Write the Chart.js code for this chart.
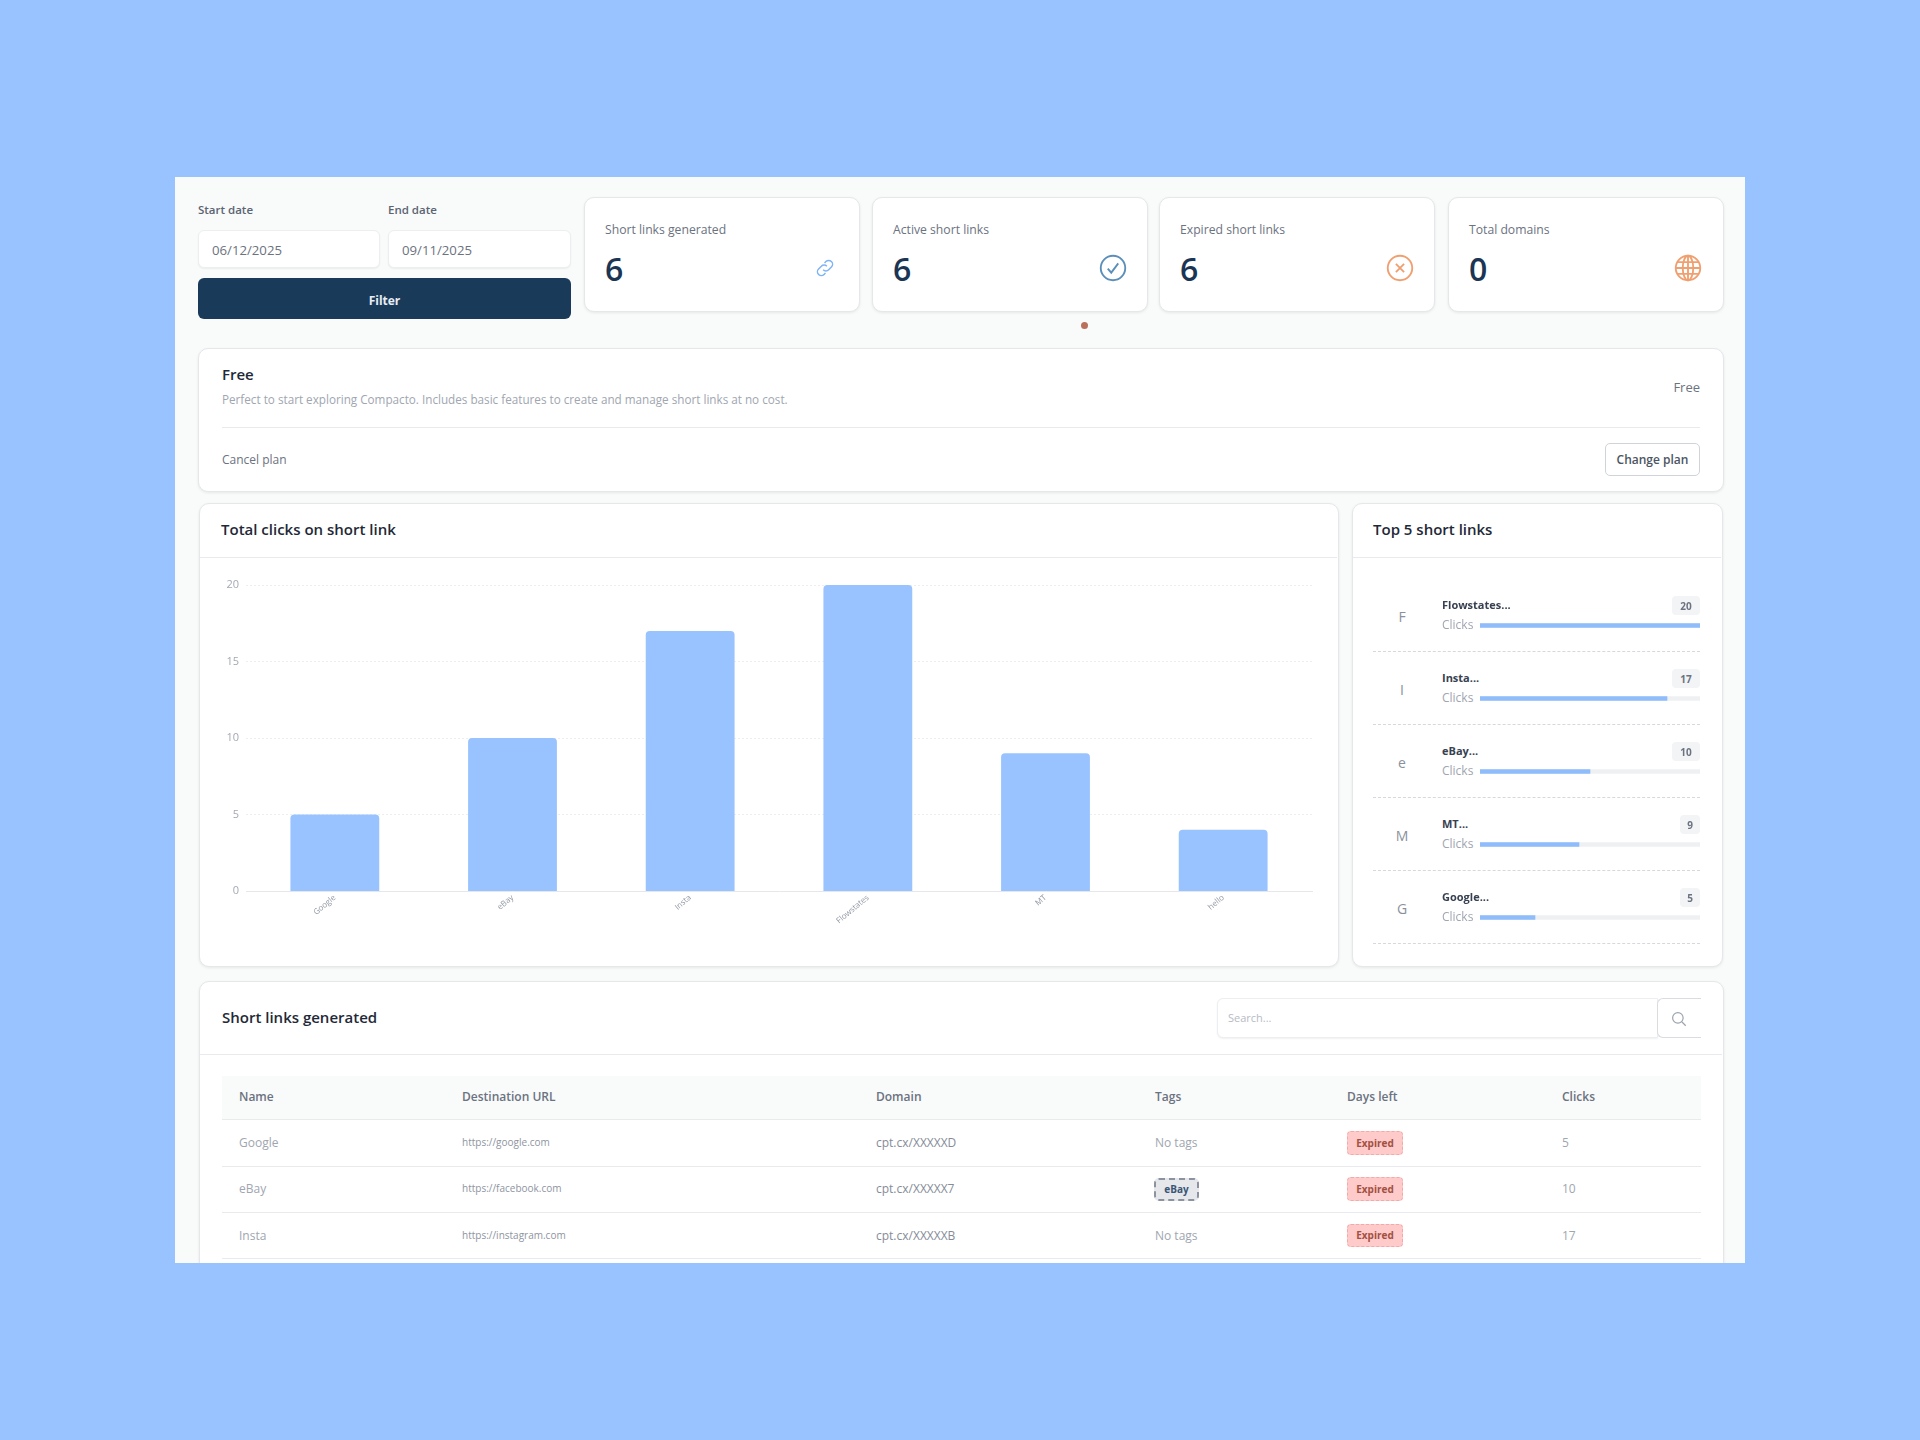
<!DOCTYPE html>
<html>
<head>
<meta charset="utf-8">
<title>Compacto dashboard</title>
<script src="https://cdn.jsdelivr.net/npm/chart.js@4"></script>
<style>
    html, body { margin: 0; width: 1920px; height: 1440px; background: #99c3ff; overflow: hidden; }
    body { font-family: "Open Sans", sans-serif; color: #6b7280; }
    #panel { position: absolute; left: 0; top: 0; width: 1920px; height: 1440px; background: #f9fafa;
             clip-path: inset(177px 175px 177px 175px); filter: blur(0.4px); }
    .box { position: absolute; box-sizing: border-box; }
    .card { background: #fff; border: 1px solid #e5e7eb; border-radius: 10px; box-shadow: 0 1px 3px rgba(0,0,0,0.08); }
    .input { background: #fff; border: 1px solid #eceef1; border-radius: 6px; box-shadow: 0 1px 2px rgba(0,0,0,0.06); }
    .t { position: absolute; white-space: nowrap; transform: translateY(-50%); font-size: 12px; line-height: 1.2; }
    .t.right { transform: translate(-100%, -50%); }
    .t.center { transform: translate(-50%, -50%); }
    .label { font-weight: 600; color: #5b6472; font-size: 11.500px; }
    .title { font-size: 15px; font-weight: 600; color: #1f2937; }
    .muted { color: #a0a6b0; }
    .value { font-size: 32px; font-weight: 600; color: #1b3554; }
    .head { font-weight: 600; color: #6b7280; }
    .url { font-size: 10px; color: #8d94a0; }
    .name { font-weight: 700; color: #374151; font-size: 11px; }
    .line { position: absolute; height: 0; border-top: 1px solid #e8eaed; }
    .dash { position: absolute; height: 0; border-top: 1px dashed #d5d8dd; }
    .expired { background: #fecaca; border: 1px dashed #f4a9a9; border-radius: 4px; }
    .tag { background: #e5e7eb; border: 2px dashed #8b93a0; border-radius: 5px; }
    canvas { position: absolute; }
    svg { position: absolute; fill: none; }
</style>
</head>
<body>
<div id="panel"></div>
<script>
// Grafico de barras
const linkNames = ["Google", "eBay", "Insta", "Flowstates", "MT", "hello"];
const linkClicks = [5, 10, 17, 20, 9, 4];
const clickTicks = [0, 5, 10, 15, 20];

// Top 5
const topNames = ["Flowstates...", "Insta...", "eBay...", "MT...", "Google..."];
const topLetters = ["F", "I", "e", "M", "G"];
const topClicks = [20, 17, 10, 9, 5];
const topTrack = [20, 20, 20, 20, 20];

// Cards
const cardLabels = ["Short links generated", "Active short links", "Expired short links", "Total domains"];
const cardValues = [6, 6, 6, 0];

// Tabela
const tableHeads = ["Name", "Destination URL", "Domain", "Tags", "Days left", "Clicks"];
const tableNames = ["Google", "eBay", "Insta"];
const tableUrls = ["https://google.com", "https://facebook.com", "https://instagram.com"];
const tableDomains = ["cpt.cx/XXXXXD", "cpt.cx/XXXXX7", "cpt.cx/XXXXXB"];
const tableTags = ["No tags", "eBay", "No tags"];
const tableClicks = [5, 10, 17];

const panel = document.getElementById("panel");

function box(x, y, w, h, cls) {
    const el = document.createElement("div");
    el.className = "box " + cls;
    el.style.cssText = `left:${x}px;top:${y}px;width:${w}px;height:${h}px`;
    panel.appendChild(el);
    return el;
}

function card(x, y, w, h) {
    return box(x - 0.5, y - 1, w + 1, h + 1.5, "card");
}

function text(x, cy, str, cls = "", extra = "") {
    const el = document.createElement("div");
    el.className = "t " + cls;
    el.style.cssText = `left:${x}px;top:${cy}px;${extra}`;
    el.textContent = str;
    panel.appendChild(el);
    return el;
}

function line(x, y, w, cls = "line") {
    const el = document.createElement("div");
    el.className = cls;
    el.style.cssText = `left:${x}px;top:${y}px;width:${w}px`;
    panel.appendChild(el);
}

function icon(cx, cy, size, color, inner) {
    panel.insertAdjacentHTML("beforeend",
        `<svg viewBox="0 0 24 24" width="${size}" height="${size}" stroke="${color}" stroke-width="1.6"
              style="left:${cx - size / 2}px;top:${cy - size / 2}px">${inner}</svg>`);
}

// Filtro de datas
text(198, 210, "Start date", "label");
text(388, 210, "End date", "label");
box(198, 230, 182, 38, "input");
box(388, 230, 183, 38, "input");
text(212, 250.5, "06/12/2025", "", "font-size:13.200px");
text(402, 250.5, "09/11/2025", "", "font-size:13.200px");
box(198, 278, 373, 41, "").style.cssText += ";background:#1a3a5a;border-radius:6px";
text(384.5, 300.5, "Filter", "center", "color:#e8edf3;font-weight:700");

// Cards de resumo
const cardX = [584, 872, 1159, 1448];
cardLabels.forEach((label, i) => {
    card(cardX[i], 198, 275, 113);
    text(cardX[i] + 21, 230, label, "", "font-size:12.200px");
    text(cardX[i] + 21, 269, cardValues[i], "value");
});
icon(825, 268, 22, "#7fb3f5", '<path d="M10 14a4 4 0 0 0 6 0l3-3a4 4 0 0 0-6-6l-1.500 1.500"/><path d="M14 10a4 4 0 0 0-6 0l-3 3a4 4 0 0 0 6 6l1.500-1.500"/>');
icon(1113, 268, 28, "#5b8fb9", '<circle cx="12" cy="12" r="10.500"/><path d="M7.500 12.500l3 3.500 6-8"/>');
icon(1400, 268, 28, "#f0a070", '<circle cx="12" cy="12" r="10.500"/><path d="M8.500 8.500l7 7M15.500 8.500l-7 7"/>');
icon(1688, 268, 28, "#f0a070", '<circle cx="12" cy="12" r="10.500"/><ellipse cx="12" cy="12" rx="4.500" ry="10.500"/><path d="M1.500 12h21M3 7h18M3 17h18M12 1.500v21"/>');
box(1080.5, 321.5, 7, 7, "").style.cssText += ";background:#b9715e;border-radius:50%";

// Plano
card(198, 349, 1525, 142);
text(222, 373.5, "Free", "title");
text(222, 399, "Perfect to start exploring Compacto. Includes basic features to create and manage short links at no cost.", "muted", "font-size:11.700px");
line(222, 427, 1478);
text(222, 459.5, "Cancel plan");
text(1700, 388, "Free", "right", "font-size:13px;font-weight:500");
box(1605, 443, 95, 33, "").style.cssText += ";background:#fff;border:1px solid #cfd4da;border-radius:5px";
text(1652.5, 459.5, "Change plan", "center", "font-weight:600;color:#4b5563");

// Grafico principal
card(199, 504, 1139, 462);
text(221, 529, "Total clicks on short link", "title");
line(200, 557, 1137);
card(1352, 504, 370, 462);
text(1373, 529, "Top 5 short links", "title");
line(1353, 557, 368);

panel.insertAdjacentHTML("beforeend",
    `<canvas id="chartClicks" width="1130" height="390" style="left:200px;top:570px"></canvas>
     <canvas id="chartTop" width="220" height="365" style="left:1480px;top:589px"></canvas>`);

new Chart(document.getElementById("chartClicks"), {
    type: "bar",
    data: {
        labels: linkNames,
        datasets: [{
            data: linkClicks,
            backgroundColor: "#99c3ff",
            borderRadius: { topLeft: 4, topRight: 4 },
            borderSkipped: "bottom",
            barPercentage: 0.5,
            categoryPercentage: 1
        }]
    },
    options: {
        responsive: false,
        animation: false,
        devicePixelRatio: 1,
        layout: { padding: { top: 15, right: 18, left: 0, bottom: 0 } },
        plugins: { legend: { display: false }, tooltip: { enabled: false } },
        scales: {
            y: {
                min: 0,
                max: 20,
                afterBuildTicks: axis => { axis.ticks = clickTicks.map(value => ({ value })); },
                afterFit: axis => { axis.width = 46; },
                border: { display: false, dash: [2, 2] },
                grid: { color: "#eceef0", drawTicks: false, lineWidth: ctx => ctx.tick.value === 0 ? 0 : 1 },
                ticks: { color: "#a3a9b3", padding: 7, font: { family: "Open Sans", size: 11 } }
            },
            x: {
                afterFit: axis => { axis.height = 69; },
                border: { color: "#e5e7eb", width: 1 },
                grid: { display: false, drawTicks: false },
                ticks: {
                    color: "#9299a4",
                    padding: 2,
                    minRotation: 40,
                    maxRotation: 40,
                    font: { family: "Open Sans", size: 8 }
                }
            }
        }
    }
});

new Chart(document.getElementById("chartTop"), {
    type: "bar",
    data: {
        labels: topNames,
        datasets: [
            { data: topClicks, backgroundColor: "#8fbcfb", barThickness: 4, order: 1 },
            { data: topTrack, backgroundColor: "#eef0f2", barThickness: 4, order: 2 }
        ]
    },
    options: {
        indexAxis: "y",
        responsive: false,
        animation: false,
        devicePixelRatio: 1,
        layout: { padding: 0 },
        plugins: { legend: { display: false }, tooltip: { enabled: false } },
        datasets: { bar: { grouped: false } },
        scales: {
            x: { display: false, min: 0, max: 20 },
            y: { display: false }
        }
    }
});

// Lista Top 5
topNames.forEach((name, i) => {
    const y = 73 * i;
    text(1402, 617 + y, topLetters[i], "center", "font-size:14px;color:#8a919c");
    text(1442, 605 + y, name, "name");
    text(1442, 625 + y, "Clicks", "muted");
    const w = String(topClicks[i]).length > 1 ? 28 : 20;
    box(1700 - w, 596 + y, w, 19, "").style.cssText += ";background:#f3f4f6;border-radius:4px";
    text(1700 - w / 2, 605.5 + y, topClicks[i], "center", "font-size:10px;font-weight:700;color:#6b7280");
    line(1373, 651 + y, 327, "dash");
});

// Tabela
card(199, 982, 1524, 400);
text(222, 1016.5, "Short links generated", "title");
line(200, 1054, 1522);
box(1217, 998, 441, 40, "input").style.borderRadius = "6px 0 0 6px";
text(1228, 1018, "Search...", "", "color:#b6bbc4;font-size:11px");
box(1657, 998, 44, 40, "").style.cssText += ";background:#fff;border:1px solid #d9dce1;border-right:0;border-radius:6px 0 0 6px";
icon(1679, 1019, 18, "#9ca3af", '<circle cx="10.500" cy="10.500" r="7"/><path d="M16 16l5 5"/>');
box(222, 1076, 1479, 43, "").style.background = "#f9fafa";
line(222, 1119, 1479);

const colX = [239, 462, 876, 1155, 1347, 1562];
tableHeads.forEach((head, i) => text(colX[i], 1097, head, "head"));
tableNames.forEach((name, i) => {
    const cy = 1143 + 46.3 * i;
    text(colX[0], cy, name, "muted");
    text(colX[1], cy - 1, tableUrls[i], "url");
    text(colX[2], cy, tableDomains[i], "", "color:#858c98");
    if (tableTags[i] === "No tags") {
        text(colX[3], cy, tableTags[i], "muted");
    } else {
        box(colX[3] - 1, cy - 11.500, 45, 23, "tag");
        text(colX[3] + 21.500, cy, tableTags[i], "center", "font-size:10px;font-weight:700;color:#3b5575");
    }
    box(colX[4], cy - 12, 56, 23.500, "expired");
    text(colX[4] + 28, cy - 0.500, "Expired", "center", "font-size:10px;font-weight:700;color:#a2503f");
    text(colX[5], cy, tableClicks[i], "muted");
    line(222, 1166 + 46 * i, 1479);
});
</script>
</body>
</html>
